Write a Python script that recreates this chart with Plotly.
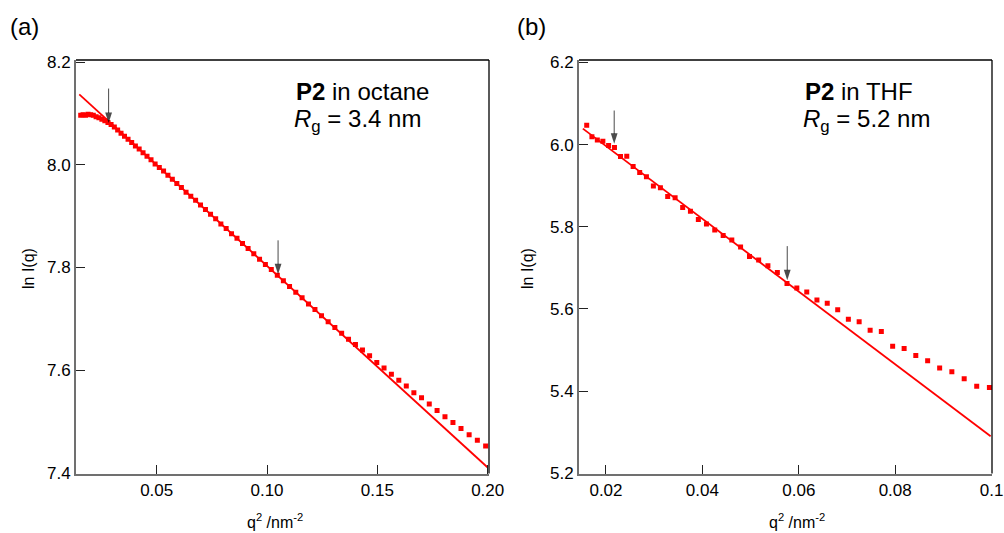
import plotly.graph_objects as go

# ---------------- data ----------------
# panel (a): P2 in octane
q2_a = [0.01555, 0.01662, 0.01773, 0.01888, 0.02006, 0.02127, 0.02252, 0.02381,
        0.02514, 0.02649, 0.02789, 0.02932, 0.03079, 0.03229, 0.03383, 0.03540,
        0.03701, 0.03866, 0.04034, 0.04205, 0.04381, 0.04560, 0.04742, 0.04928,
        0.05118, 0.05311, 0.05508, 0.05708, 0.05912, 0.06119, 0.06330, 0.06545,
        0.06763, 0.06985, 0.07210, 0.07439, 0.07672, 0.07908, 0.08148, 0.08391,
        0.08638, 0.08888, 0.09142, 0.09400, 0.09661, 0.09926, 0.10194, 0.10466,
        0.10741, 0.11020, 0.11303, 0.11589, 0.11879, 0.12172, 0.12469, 0.12770,
        0.13074, 0.13382, 0.13693, 0.14008, 0.14326, 0.14648, 0.14974, 0.15303,
        0.15636, 0.15972, 0.16312, 0.16655, 0.17002, 0.17353, 0.17707, 0.18065,
        0.18426, 0.18791, 0.19160, 0.19532, 0.19908]
lnI_a = [8.097, 8.098, 8.097, 8.099, 8.098, 8.097, 8.094, 8.092,
         8.089, 8.086, 8.083, 8.079, 8.074, 8.068, 8.062, 8.056,
         8.050, 8.044, 8.037, 8.031, 8.024, 8.017, 8.010, 8.002,
         7.995, 7.988, 7.980, 7.972, 7.964, 7.956, 7.947, 7.939,
         7.931, 7.922, 7.913, 7.904, 7.895, 7.885, 7.876, 7.866,
         7.857, 7.847, 7.837, 7.827, 7.816, 7.806, 7.796, 7.785,
         7.774, 7.763, 7.752, 7.741, 7.729, 7.718, 7.706, 7.694,
         7.683, 7.672, 7.660, 7.650, 7.639, 7.628, 7.615, 7.604,
         7.592, 7.580, 7.569, 7.556, 7.546, 7.534, 7.521, 7.509,
         7.498, 7.486, 7.474, 7.463, 7.452]
fit_a_q2 = [0.0149, 0.2000]
fit_a_lnI = [8.1377, 7.4100]
arrow_a_q2 = [0.0282, 0.1050]
arrow_a_tip = [8.082, 7.787]
arrow_a_tail = [8.149, 7.853]

# panel (b): P2 in THF
q2_b = [0.01600, 0.01708, 0.01820, 0.01935, 0.02054, 0.02176, 0.02301, 0.02431,
        0.02563, 0.02699, 0.02839, 0.02983, 0.03129, 0.03280, 0.03434, 0.03591,
        0.03752, 0.03916, 0.04084, 0.04256, 0.04431, 0.04610, 0.04792, 0.04977,
        0.05167, 0.05359, 0.05555, 0.05755, 0.05959, 0.06165, 0.06376, 0.06590,
        0.06807, 0.07028, 0.07252, 0.07480, 0.07712, 0.07947, 0.08185, 0.08427,
        0.08673, 0.08922, 0.09175, 0.09431, 0.09691, 0.09954]
lnI_b = [6.047, 6.019, 6.011, 6.008, 5.998, 5.993, 5.971, 5.972,
         5.947, 5.932, 5.922, 5.899, 5.895, 5.874, 5.871, 5.847,
         5.838, 5.818, 5.807, 5.792, 5.779, 5.768, 5.751, 5.728,
         5.719, 5.705, 5.689, 5.662, 5.651, 5.641, 5.622, 5.614,
         5.598, 5.575, 5.569, 5.548, 5.545, 5.509, 5.504, 5.487,
         5.474, 5.456, 5.447, 5.430, 5.412, 5.409]
fit_b_q2 = [0.0152, 0.0998]
fit_b_lnI = [6.039, 5.290]
arrow_b_q2 = [0.0217, 0.0576]
arrow_b_tip = [6.002, 5.670]
arrow_b_tail = [6.083, 5.753]

# tick labels
xt_a = [0.05, 0.10, 0.15, 0.20]
xt_a_text = ["0.05", "0.10", "0.15", "0.20"]
yt_a = [7.4, 7.6, 7.8, 8.0, 8.2]
yt_a_text = ["7.4", "7.6", "7.8", "8.0", "8.2"]
xt_b = [0.02, 0.04, 0.06, 0.08, 0.1]
xt_b_text = ["0.02", "0.04", "0.06", "0.08", "0.1"]
yt_b = [5.2, 5.4, 5.6, 5.8, 6.0, 6.2]
yt_b_text = ["5.2", "5.4", "5.6", "5.8", "6.0", "6.2"]

# ---------------- figure ----------------
W, H = 1004, 533
FONT = "Liberation Sans, Arial, Helvetica, sans-serif"
RED = "#ff0000"


def px(x):
    return x / W


def py(y):
    return 1 - y / H


fig = go.Figure()

fig.add_trace(go.Scatter(x=q2_a, y=lnI_a, mode="markers", xaxis="x", yaxis="y",
                         marker=dict(symbol="square", size=5, color=RED, line=dict(width=0)),
                         showlegend=False, hoverinfo="skip"))
fig.add_trace(go.Scatter(x=fit_a_q2, y=fit_a_lnI, mode="lines", xaxis="x", yaxis="y",
                         line=dict(color=RED, width=1.8), showlegend=False, hoverinfo="skip"))
fig.add_trace(go.Scatter(x=q2_b, y=lnI_b, mode="markers", xaxis="x2", yaxis="y2",
                         marker=dict(symbol="square", size=5, color=RED, line=dict(width=0)),
                         showlegend=False, hoverinfo="skip"))
fig.add_trace(go.Scatter(x=fit_b_q2, y=fit_b_lnI, mode="lines", xaxis="x2", yaxis="y2",
                         line=dict(color=RED, width=1.8), showlegend=False, hoverinfo="skip"))

# arrows marking the fit range (line + arrow-head marker at the tip)
for xr, yr, qs, tips, tails in (("x", "y", arrow_a_q2, arrow_a_tip, arrow_a_tail),
                                ("x2", "y2", arrow_b_q2, arrow_b_tip, arrow_b_tail)):
    for q, t, s in zip(qs, tips, tails):
        fig.add_trace(go.Scatter(
            x=[q, q], y=[s, t], mode="lines+markers", xaxis=xr, yaxis=yr,
            line=dict(color="#4a4a4a", width=1),
            marker=dict(symbol="arrow", size=[0, 11], angleref="previous", color="black",
                        line=dict(width=0)),
            showlegend=False, hoverinfo="skip"))

axis_common = dict(
    showgrid=False, zeroline=False, showline=True, linecolor="#707070", linewidth=2,
    ticks="inside", tickcolor="#222222", tickwidth=1, ticklen=9,
    tickfont=dict(family=FONT, size=17, color="black"), automargin=False,
    tickmode="array",
)

ydom = [py(473.5), py(60)]
fig.update_layout(
    width=W, height=H,
    margin=dict(l=0, r=0, t=0, b=0),
    paper_bgcolor="white", plot_bgcolor="white",
    font=dict(family=FONT, color="black"),
    xaxis=dict(axis_common, domain=[px(76), px(489)], range=[0.01342, 0.2006],
               tickvals=xt_a, ticktext=xt_a_text, anchor="y"),
    yaxis=dict(axis_common, domain=ydom, range=[7.3983, 8.2047],
               tickvals=yt_a, ticktext=yt_a_text, anchor="x"),
    xaxis2=dict(axis_common, domain=[px(579), px(992)], range=[0.01440, 0.10008],
                tickvals=xt_b, ticktext=xt_b_text, anchor="y2"),
    yaxis2=dict(axis_common, domain=ydom, range=[5.1995, 6.206],
                tickvals=yt_b, ticktext=yt_b_text, anchor="x2"),
)

# top and right frame lines
for xr, yr in (("x", "y"), ("x2", "y2")):
    fig.add_shape(type="line", xref=f"{xr} domain", yref=f"{yr} domain",
                  x0=0, x1=1, y0=1, y1=1, line=dict(color="black", width=1.3))
    fig.add_shape(type="line", xref=f"{xr} domain", yref=f"{yr} domain",
                  x0=1, x1=1, y0=0, y1=1, line=dict(color="black", width=1.3))


# text annotations
def txt(x, y, s, size, xanchor="left", yanchor="middle", angle=0):
    fig.add_annotation(x=x, y=y, xref="paper", yref="paper", text=s, showarrow=False,
                       xanchor=xanchor, yanchor=yanchor, textangle=angle,
                       font=dict(family=FONT, size=size, color="black"))


txt(px(8), py(27), "(a)", 24)
txt(px(515), py(27), "(b)", 24)

txt(px(294), py(91), "<b>P2</b> in octane", 24)
txt(px(292), py(121), "<i>R</i><sub>g</sub> = 3.4 nm", 24)
txt(px(803), py(91), "<b>P2</b> in THF", 24)
txt(px(801), py(121), "<i>R</i><sub>g</sub> = 5.2 nm", 24)

txt(px(275), py(521), "q<sup>2</sup> /nm<sup>-2</sup>", 16, xanchor="center")
txt(px(797), py(521), "q<sup>2</sup> /nm<sup>-2</sup>", 16, xanchor="center")
txt(px(28), py(269), "ln I(q)", 16, xanchor="center", angle=-90)
txt(px(527), py(269), "ln I(q)", 16, xanchor="center", angle=-90)

fig.write_html("out.html")
